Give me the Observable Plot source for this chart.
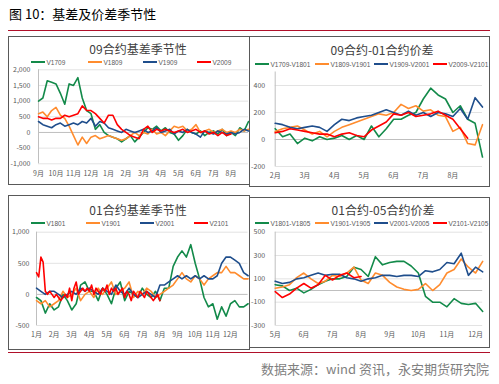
<!DOCTYPE html>
<html><head><meta charset="utf-8">
<script src="https://cdn.jsdelivr.net/npm/d3@7"></script>
<script src="https://cdn.jsdelivr.net/npm/@observablehq/plot@0.6"></script>
<style>
html,body{margin:0;padding:0;background:#fff;}
body{width:499px;height:384px;overflow:hidden;position:relative;font-family:"Noto Sans CJK SC","Noto Sans",sans-serif;}
.abs{position:absolute;white-space:nowrap;}
.panel{position:absolute;border:1.5px solid #595959;box-sizing:border-box;}
.ptitle{position:absolute;font-size:12px;color:#404040;transform:translate(-50%,-50%);white-space:nowrap;}
.lgtext{position:absolute;font-size:6.5px;color:#595959;transform:translateY(-50%);white-space:nowrap;font-family:"Liberation Sans",Arial,sans-serif;}
.seg{position:absolute;width:14px;height:2px;}
svg{overflow:visible;}
</style>
</head><body>
<div id="root"></div>
<script>
// ---------- labels ----------
const titleMain = "图 10：基差及价差季节性";
const sourceText = "数据来源：wind 资讯，永安期货研究院";
const panelTitles = ["09合约基差季节性", "09合约-01合约价差", "01合约基差季节性", "01合约-05合约价差"];
const months09 = ["9月","10月","11月","12月","1月","2月","3月","4月","5月","6月","7月","8月"];
const months0901 = ["2月","3月","4月","5月","6月","7月","8月"];
const months01 = ["1月","2月","3月","4月","5月","6月","7月","8月","9月","10月","11月","12月"];
const months0105 = ["5月","6月","7月","8月","9月","10月","11月","12月"];
const names09 = ["V1709","V1809","V1909","V2009"];
const names0901 = ["V1709-V1801","V1809-V1901","V1909-V2001","V2009-V2101"];
const names01 = ["V1801","V1901","V2001","V2101"];
const names0105 = ["V1801-V1805","V1901-V1905","V2001-V2005","V2101-V2105"];
const colors = ["#138a4a","#ff8c2e","#1f4e8c","#ff0000"];

// ---------- values (month offset from first label = index * step) ----------
// Panel 1: 09 basis, step 0.25 month
const v1709 = [1000,1100,1650,1600,1550,1250,900,1550,1500,1750,1100,700,600,100,250,0,-100,-150,-200,-300,-200,-100,-300,-150,0,150,100,200,50,150,0,-50,-250,-100,100,0,-50,50,-100,0,50,-50,100,-100,0,-100,150,50,350];
const v1809 = [600,650,500,700,800,550,450,200,-100,-400,-150,-350,-150,-100,-200,-150,-100,-150,-200,-250,-200,-100,0,-100,0,-50,100,-50,0,-100,50,200,150,200,50,100,250,0,50,100,0,50,100,0,50,0,100,50,100];
const v1909 = [350,250,200,150,250,300,200,250,300,250,350,300,450,200,350,300,150,100,50,0,100,50,0,50,100,0,50,150,0,50,100,-50,50,0,100,0,-50,-150,50,0,-50,50,0,-50,0,-50,0,100,50];
const v2009 = [500,450,450,400,450,450,550,500,550,600,850,700,700,600,450,300,550,550,250,100,0,-100,-150,-200,100,200,0,100,50,100,50,0,50,100,0,50,100,0,50,-50,0,-100,0,-100,-50];
// Panel 2: 09-01 spread, step 0.25 month
const s1709_1801 = [80,20,40,-30,10,-10,20,0,10,30,0,30,0,100,20,80,150,150,180,200,300,380,330,300,200,250,150,120,-130];
const s1809_1901 = [60,80,90,100,70,40,60,20,60,90,110,130,150,170,190,180,200,260,230,250,210,220,180,170,60,90,-30,-40,110];
const s1909_2001 = [120,110,90,80,90,100,90,60,110,150,140,160,170,180,200,220,200,180,210,180,200,170,200,190,170,230,150,310,240];
const s2009_2101 = [50,60,80,70,60,50,40,40,20,40,50,30,20,70,100,130,190,180,200,170,180,190,210,180,150,80,10];
// Panel 3: 01 basis, step 0.25 month (V2101 step 0.125)
const v1801 = [-50,-100,-300,-150,-250,-200,0,-100,-250,-150,150,200,50,50,-100,100,0,-150,100,200,-100,50,0,-50,100,0,-50,50,-100,100,100,450,600,700,600,800,500,250,-50,-200,-150,-400,-200,-350,-150,-100,-200,-200,-150];
const v1901 = [-100,-150,-100,-200,-150,-100,50,-50,0,100,-100,0,50,-50,100,0,100,200,0,50,100,200,-50,50,0,100,50,-50,0,50,100,150,250,350,250,200,300,250,150,250,300,350,350,450,350,350,300,250,250];
const v2001 = [100,50,0,50,50,0,-50,0,50,0,100,50,100,50,0,100,50,0,150,50,0,100,0,-50,0,50,0,-50,150,150,200,250,300,250,300,250,300,250,300,250,250,300,500,600,600,550,500,350,300];
const v2101 = [350,280,600,520,50,0,50,0,-50,0,-50,-100,-50,0,-50,100,-100,100,200,0,50,100,50,100,50,150,0,100,50,0,100,50,150,0,100,50,100,0,50,100,-50,50,0,-100,50,0,-50,50,0,-50,50,0,-50,-100,-50,0,-100];
// Panel 4: 01-05 spread, step 0.25 month
const s1801_1805 = [50,40,0,20,-20,10,50,80,100,100,120,200,180,120,290,220,240,250,250,210,150,-50,-100,-100,-140,-70,-110,-120,-110,-180];
const s1901_1905 = [20,30,50,110,150,100,60,80,130,120,150,200,90,60,150,130,70,30,10,0,10,60,0,50,150,180,270,200,150,250];
const s2001_2005 = [80,60,70,100,110,130,150,130,140,140,110,100,80,100,110,130,130,120,130,130,120,170,160,180,240,230,320,130,200,160];
const s2101_2105 = [-10,-60,-30,20,60,20,50,130,90,130,150,110,120];

const yTicks09 = [-1000,-500,0,500,1000,1500,2000];
const yTicks0901 = [-200,0,200,400];
const yTicks01 = [-500,0,500,1000];
const yTicks0105 = [-300,-100,100,300,500];

// ---------- layout helpers ----------
const root = document.getElementById("root");
function el(cls, css, text) {
  const d = document.createElement("div");
  d.className = cls;
  Object.assign(d.style, css);
  if (text != null) d.textContent = text;
  root.appendChild(d);
  return d;
}
const fmt = d => d.toLocaleString("en-US");

function chart(cfg) {
  const data = cfg.series.flatMap((s, k) => s.values.map((v, i) => ({x: i * s.step, y: v, name: cfg.names[k]})));
  const p = Plot.plot({
    width: cfg.width, height: cfg.height,
    marginLeft: cfg.ml, marginRight: cfg.mr, marginTop: cfg.mt, marginBottom: cfg.mb,
    style: {fontFamily: '"Noto Sans CJK SC","Noto Sans",sans-serif', fontSize: "7px", color: "#595959", background: "transparent", overflow: "visible"},
    x: {domain: [0, cfg.xMax], axis: null, label: null},
    y: {domain: cfg.yDomain, axis: null, label: null},
    color: {domain: cfg.names, range: colors},
    marks: [
      Plot.ruleY(cfg.yTicks.filter(t => t !== 0), {stroke: "#e3e3e3", strokeWidth: 1}),
      Plot.ruleY([0], {stroke: "#bfbfbf", strokeWidth: 1}),
      Plot.ruleX([0], {stroke: "#bfbfbf", strokeWidth: 1}),
      Plot.axisY(cfg.yTicks, {tickSize: 0, tickPadding: cfg.ypad, tickFormat: fmt, fontSize: 7, fill: "#595959", label: null}),
      Plot.axisX(d3.range(cfg.months.length), {tickSize: 0, tickPadding: 7, tickFormat: i => cfg.months[i], fontSize: 7, fill: "#595959", label: null}),
      Plot.line(data, {x: "x", y: "y", z: "name", stroke: "name", strokeWidth: 1.6, strokeLinejoin: "round"})
    ]
  });
  p.style.position = "absolute";
  p.style.left = cfg.left + "px";
  p.style.top = cfg.top + "px";
  root.appendChild(p);
}

function legend(names, xs, y) {
  names.forEach((n, i) => {
    el("seg", {left: xs[i] + "px", top: (y - 1) + "px", background: colors[i]});
    el("lgtext", {left: (xs[i] + 15.5) + "px", top: y + "px"}, n);
  });
}

// ---------- page ----------
el("abs", {left: "9px", top: "5px", fontSize: "13px", color: "#000", lineHeight: "18px"}, titleMain);
el("abs", {left: "8px", top: "29.5px", width: "482px", height: "1.5px", background: "#b0102a"});
el("abs", {left: "8px", top: "351.5px", width: "482px", height: "1.5px", background: "#b0102a"});
el("abs", {right: "10px", top: "360px", fontSize: "13px", color: "#7f7f7f", lineHeight: "17px"}, sourceText);

// panel frames
el("panel", {left: "7.5px", top: "35.5px", width: "242px", height: "149px"});
el("panel", {left: "248.5px", top: "35.5px", width: "241px", height: "151px"});
el("panel", {left: "7.5px", top: "195px", width: "242px", height: "154.5px"});
el("panel", {left: "248.5px", top: "196.5px", width: "241px", height: "151px"});

// titles
el("ptitle", {left: "138px", top: "48px"}, panelTitles[0]);
el("ptitle", {left: "382px", top: "49px"}, panelTitles[1]);
el("ptitle", {left: "138px", top: "208.5px"}, panelTitles[2]);
el("ptitle", {left: "383px", top: "208.5px"}, panelTitles[3]);

// legends
legend(names09, [31, 88, 143, 197], 62);
legend(names0901, [255, 315, 374, 433], 64);
legend(names01, [31, 86, 140, 194], 223);
legend(names0105, [255, 315, 374, 433], 223);

// charts
chart({left: 8, top: 64, width: 241, height: 118, ml: 30, mr: 1, mt: 5.3, mb: 18.7, ypad: 8,
  xMax: 12, yDomain: [-1000, 2000], yTicks: yTicks09, months: months09, names: names09,
  series: [{values: v1709, step: 0.25}, {values: v1809, step: 0.25}, {values: v1909, step: 0.25}, {values: v2009, step: 0.25}]});
chart({left: 249, top: 66, width: 240, height: 120, ml: 25.7, mr: 7, mt: 5.5, mb: 20, ypad: 10,
  xMax: 7, yDomain: [-200, 500], yTicks: yTicks0901, months: months0901, names: names0901,
  series: [{values: s1709_1801, step: 0.25}, {values: s1809_1901, step: 0.25}, {values: s1909_2001, step: 0.25}, {values: s2009_2101, step: 0.25}]});
chart({left: 8, top: 226, width: 241, height: 120, ml: 28, mr: 1.4, mt: 5.7, mb: 21, ypad: 7,
  xMax: 12, yDomain: [-500, 1000], yTicks: yTicks01, months: months01, names: names01,
  series: [{values: v1801, step: 0.25}, {values: v1901, step: 0.25}, {values: v2001, step: 0.25}, {values: v2101, step: 0.125}]});
chart({left: 249, top: 226, width: 240, height: 120, ml: 25.7, mr: 6.8, mt: 5.7, mb: 21, ypad: 10,
  xMax: 7.25, yDomain: [-300, 500], yTicks: yTicks0105, months: months0105, names: names0105,
  series: [{values: s1801_1805, step: 0.25}, {values: s1901_1905, step: 0.25}, {values: s2001_2005, step: 0.25}, {values: s2101_2105, step: 0.25}]});
</script>
</body></html>
